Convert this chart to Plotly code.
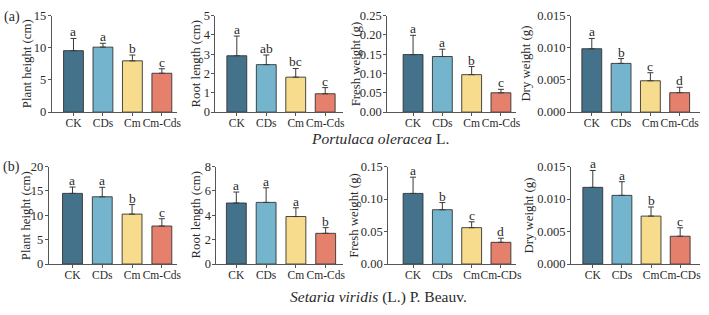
import plotly.graph_objects as go

# ---------------- data ----------------
labels_a = ["CK", "CDs", "Cm", "Cm-Cds"]
labels_b12 = ["CK", "CDs", "Cm", "Cm-Cds"]
labels_b34 = ["CK", "CDs", "Cm", "Cm-CDs"]
colors = ["#43728A", "#74B5CD", "#F6DC8C", "#E4806C"]

# (a) Portulaca oleracea L.
a_height = [9.55, 10.1, 7.97, 6.04]
a_height_err = [1.9, 0.6, 0.9, 0.7]
a_height_sig = ["a", "a", "b", "c"]

a_root = [2.92, 2.46, 1.81, 0.95]
a_root_err = [1.02, 0.5, 0.45, 0.32]
a_root_sig = ["a", "ab", "bc", "c"]

a_fresh = [0.149, 0.144, 0.097, 0.050]
a_fresh_err = [0.050, 0.019, 0.021, 0.009]
a_fresh_sig = ["a", "a", "b", "c"]

a_dry = [0.00985, 0.00757, 0.00487, 0.00302]
a_dry_err = [0.0016, 0.00075, 0.00125, 0.00084]
a_dry_sig = ["a", "b", "c", "d"]

# (b) Setaria viridis (L.) P. Beauv.
b_height = [14.5, 13.8, 10.25, 7.8]
b_height_err = [1.3, 1.95, 1.95, 1.5]
b_height_sig = ["a", "a", "b", "c"]

b_root = [5.01, 5.06, 3.9, 2.52]
b_root_err = [0.9, 1.2, 0.72, 0.47]
b_root_sig = ["a", "a", "a", "b"]

b_fresh = [0.1087, 0.0836, 0.056, 0.0334]
b_fresh_err = [0.025, 0.011, 0.009, 0.0064]
b_fresh_sig = ["a", "b", "c", "d"]

b_dry = [0.0118, 0.01057, 0.00738, 0.00428]
b_dry_err = [0.0026, 0.0021, 0.0014, 0.0013]
b_dry_sig = ["a", "a", "b", "c"]

W, H = 709, 315
FONT = "'Liberation Serif', 'Times New Roman', Tinos, 'DejaVu Serif', serif"
INK = "#2a2a2a"

# panel layout: (values, errs, sig, labels, ytitle, ymax, dtick, fmt,
#                axis_px, first_center_px, last_center_px, end_px, top_px, zero_px, title_x_px)
panels = [
    (a_height, a_height_err, a_height_sig, labels_a, "Plant height (cm)", 15, 5, "d", 52, 74, 163, 178, 9, 110, 27.5),
    (a_root, a_root_err, a_root_sig, labels_a, "Root length (cm)", 5, 1, "d", 217, 238.5, 327.5, 345, 9, 110, 197),
    (a_fresh, a_fresh_err, a_fresh_sig, labels_a, "Fresh weight (g)", 0.25, 0.05, ".2f", 390, 416, 504.5, 520, 9, 110, 358),
    (a_dry, a_dry_err, a_dry_sig, labels_a, "Dry weight (g)", 0.015, 0.005, ".3f", 575, 596, 684.5, 705, 9, 110, 529.5),
    (b_height, b_height_err, b_height_sig, labels_b12, "Plant height (cm)", 20, 5, "d", 49, 73, 163, 178, 167, 269, 26),
    (b_root, b_root_err, b_root_sig, labels_b12, "Root length (cm)", 8, 2, "d", 218, 238, 328, 345, 167, 269, 197.5),
    (b_fresh, b_fresh_err, b_fresh_sig, labels_b34, "Fresh weight (g)", 0.15, 0.05, ".2f", 391, 416, 504.5, 520, 167, 269, 357),
    (b_dry, b_dry_err, b_dry_sig, labels_b34, "Dry weight (g)", 0.015, 0.005, ".3f", 575, 597, 685, 705, 167, 269, 533),
]

fig = go.Figure()
annotations = []
layout_axes = {}

for i, (vals, errs, sig, labs, ytitle, ymax, dtick, fmt,
        ax_px, c0, c3, end_px, top_px, zero_px, tx) in enumerate(panels):
    n = i + 1
    xa = "x" if n == 1 else f"x{n}"
    ya = "y" if n == 1 else f"y{n}"
    sp = (c3 - c0) / 3.0
    r0 = -(c0 - ax_px) / sp
    r1 = 3 + (end_px - c3) / sp

    fig.add_trace(go.Bar(
        x=labs, y=vals, xaxis=xa, yaxis=ya,
        marker=dict(color=colors, line=dict(color="#333333", width=0.9)),
        width=20.0 / sp,
        error_y=dict(type="data", array=errs, arrayminus=[0] * len(errs),
                     symmetric=False, color="#3a3a3a", thickness=1, width=3),
        showlegend=False, hoverinfo="skip",
    ))

    for lab, v, e, s in zip(labs, vals, errs, sig):
        annotations.append(dict(
            x=lab, y=v + e, xref=xa, yref=ya, text=s, showarrow=False,
            yanchor="bottom", yshift=-3,
            font=dict(family=FONT, size=13.5, color=INK),
        ))

    annotations.append(dict(
        x=tx / W, y=1 - (top_px + zero_px) / 2 / H, xref="paper", yref="paper",
        text=ytitle, textangle=-90, showarrow=False,
        xanchor="center", yanchor="middle",
        font=dict(family=FONT, size=12.8, color=INK),
    ))

    key_x = "xaxis" if n == 1 else f"xaxis{n}"
    key_y = "yaxis" if n == 1 else f"yaxis{n}"
    layout_axes[key_x] = dict(
        domain=[ax_px / W, end_px / W], anchor=ya, type="category",
        categoryorder="array", categoryarray=labs,
        range=[r0, r1], showgrid=False, zeroline=False,
        showline=True, linecolor="#555555", linewidth=1,
        ticks="outside", ticklen=3, tickwidth=1, tickcolor="#555555",
        tickangle=0, ticklabelstandoff=-3,
        tickfont=dict(family=FONT, size=11.5, color=INK),
        fixedrange=True,
    )
    layout_axes[key_y] = dict(
        domain=[1 - zero_px / H, 1 - top_px / H], anchor=xa,
        range=[0, ymax], dtick=dtick, tick0=0, tickformat=fmt,
        showgrid=False, zeroline=False,
        showline=True, linecolor="#555555", linewidth=1,
        ticks="outside", ticklen=3, tickwidth=1, tickcolor="#555555",
        ticklabelstandoff=-1,
        tickfont=dict(family=FONT, size=12.5, color=INK),
        fixedrange=True,
    )

# subtitles and panel tags
annotations.append(dict(
    x=383 / W, y=1 - 138 / H, xref="paper", yref="paper", showarrow=False,
    text="<i>Portulaca oleracea</i> L.", xanchor="center", yanchor="middle",
    font=dict(family=FONT, size=15.5, color=INK),
))
annotations.append(dict(
    x=381 / W, y=1 - 304 / H, xref="paper", yref="paper", showarrow=False,
    text="<i>Setaria viridis</i> (L.) P. Beauv.", xanchor="center", yanchor="middle",
    font=dict(family=FONT, size=15.5, color=INK),
))
annotations.append(dict(
    x=2 / W, y=1 - 10 / H, xref="paper", yref="paper", showarrow=False,
    text="(a)", xanchor="left", yanchor="middle",
    font=dict(family=FONT, size=14, color=INK),
))
annotations.append(dict(
    x=1 / W, y=1 - 167 / H, xref="paper", yref="paper", showarrow=False,
    text="(b)", xanchor="left", yanchor="middle",
    font=dict(family=FONT, size=14, color=INK),
))

fig.update_layout(
    width=W, height=H, margin=dict(l=0, r=0, t=0, b=0),
    paper_bgcolor="white", plot_bgcolor="white",
    font=dict(family=FONT, color=INK),
    annotations=annotations, bargap=0.3,
    **layout_axes,
)

fig.write_html("out.html", config={"displayModeBar": False})
